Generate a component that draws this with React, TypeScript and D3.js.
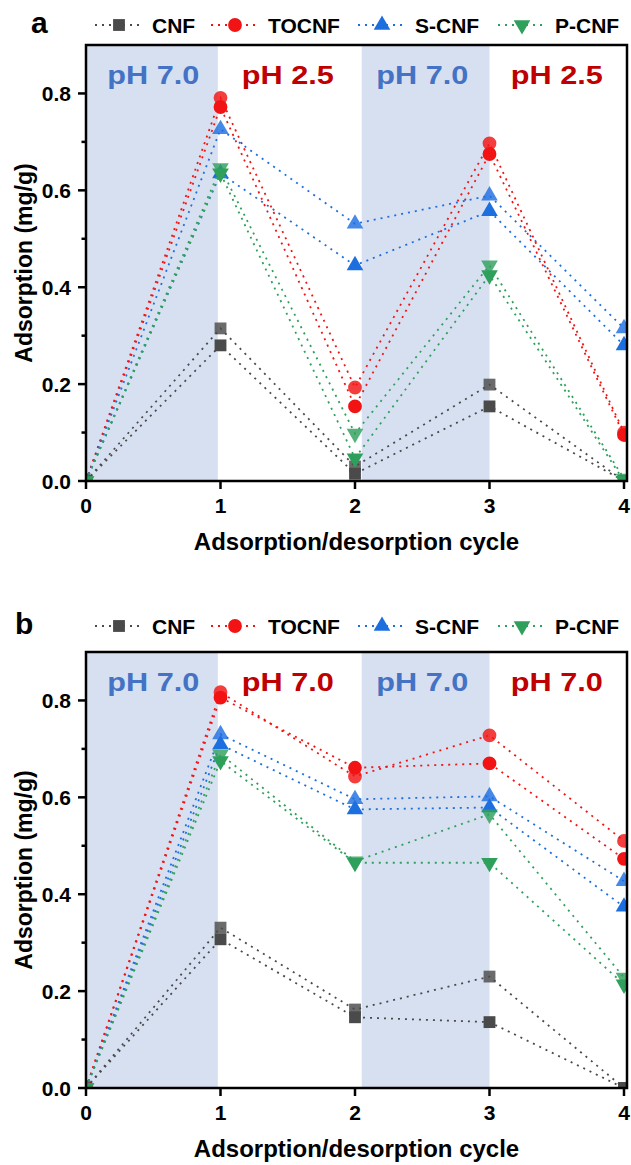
import * as d3 from 'd3'

// cycle positions on the x axis
const cycles = [0, 1, 2, 3, 4]

const seriesNames = ['CNF', 'TOCNF', 'S-CNF', 'P-CNF']
const seriesColors = ['#4a4a4a', '#f21414', '#1d6fe0', '#2fa05c']

const yTicks = [0, 0.2, 0.4, 0.6, 0.8]
const yMinorTicks = [0.1, 0.3, 0.5, 0.7]

// panel a: two replicates per material
const cnfA1 = [0, 0.315, 0.03, 0.199, 0]
const cnfA2 = [0, 0.28, 0.015, 0.154, 0]
const tocnfA1 = [0, 0.791, 0.193, 0.697, 0.1]
const tocnfA2 = [0, 0.772, 0.154, 0.675, 0.095]
const scnfA1 = [0, 0.726, 0.531, 0.589, 0.315]
const scnfA2 = [0, 0.635, 0.445, 0.557, 0.28]
const pcnfA1 = [0, 0.646, 0.098, 0.445, 0.005]
const pcnfA2 = [0, 0.635, 0.047, 0.425, 0]

// panel b
const cnfB1 = [0, 0.331, 0.162, 0.23, 0]
const cnfB2 = [0, 0.307, 0.146, 0.136, 0]
const tocnfB1 = [0, 0.817, 0.643, 0.728, 0.51]
const tocnfB2 = [0, 0.806, 0.661, 0.67, 0.473]
const scnfB1 = [0, 0.73, 0.596, 0.602, 0.427]
const scnfB2 = [0, 0.709, 0.575, 0.579, 0.374]
const pcnfB1 = [0, 0.689, 0.468, 0.565, 0.228]
const pcnfB2 = [0, 0.675, 0.465, 0.465, 0.214]

const phLabelsA = ['pH 7.0', 'pH 2.5', 'pH 7.0', 'pH 2.5']
const phLabelsB = ['pH 7.0', 'pH 7.0', 'pH 7.0', 'pH 7.0']
const phColors = ['#4472c4', '#c00000', '#4472c4', '#c00000']

// shaded (adsorption) intervals
const bands = [
  [0, 0.98],
  [2.05, 3],
]

const FONT = '"Liberation Sans", Arial, sans-serif'

const symbolTypes = [d3.symbolSquare, d3.symbolCircle, d3.symbolTriangle, d3.symbolTriangle]
const symbolSizes = [140, 150, 120, 120]

function Marker({ i, cx, cy, opacity = 1 }: any) {
  const path = d3.symbol().type(symbolTypes[i]).size(symbolSizes[i])()
  const rot = i === 3 ? 180 : 0
  return (
    <path
      d={path as string}
      transform={`translate(${cx},${cy}) rotate(${rot})`}
      fill={seriesColors[i]}
      fillOpacity={opacity}
    />
  )
}

// legend layout: symbol centre and text start
const legendPos = [
  [119, 152],
  [235, 268],
  [382, 415],
  [522, 555],
]

function Panel({ id, label, labelX, legendY, top, phLabels, reps }: any) {
  const left = 86
  const right = 627
  const bottom = top + 436
  const x = d3.scaleLinear().domain([0, 4]).range([left, 624])
  const y = d3.scaleLinear().domain([0, 0.9]).range([bottom, top])
  const line = d3
    .line<number>()
    .x((_, i) => x(cycles[i]))
    .y(d => y(d))
  const fmt = d3.format('.1f')

  return (
    <g fontFamily={FONT} fontWeight="bold">
      <defs>
        <clipPath id={`clip-${id}`}>
          <rect x={left} y={top} width={right - left} height={bottom - top} />
        </clipPath>
      </defs>

      {/* panel letter + legend */}
      <text x={labelX} y={legendY + 8} fontSize={30}>
        {label}
      </text>
      {seriesNames.map((name, i) => (
        <g key={name}>
          <line
            x1={legendPos[i][0] - 24}
            x2={legendPos[i][0] + 24}
            y1={legendY}
            y2={legendY}
            stroke={seriesColors[i]}
            strokeWidth={1.8}
            strokeDasharray="2 5"
          />
          <Marker i={i} cx={legendPos[i][0]} cy={legendY} />
          <text x={legendPos[i][1]} y={legendY + 7.5} fontSize={21}>
            {name}
          </text>
        </g>
      ))}

      {/* shaded bands */}
      {bands.map((b, i) => (
        <rect
          key={i}
          x={x(b[0])}
          y={top}
          width={x(b[1]) - x(b[0])}
          height={bottom - top}
          fill="#d7e0f1"
        />
      ))}

      {/* pH labels */}
      {phLabels.map((t: string, i: number) => (
        <text
          key={i}
          x={x(i + 0.5)}
          y={top + 39}
          textAnchor="middle"
          fontSize={26}
          fill={phColors[i]}
          textLength={92}
          lengthAdjust="spacingAndGlyphs"
        >
          {t}
        </text>
      ))}

      {/* data */}
      <g clipPath={`url(#clip-${id})`}>
        {reps.map((pair: number[][], i: number) => (
          <g key={i}>
            {pair.map((vals, r) => (
              <path
                key={r}
                d={line(vals) as string}
                fill="none"
                stroke={seriesColors[i]}
                strokeWidth={1.8}
                strokeDasharray="2 5"
              />
            ))}
            {pair.map((vals, r) =>
              vals.map((v, k) => (
                <Marker key={`${r}-${k}`} i={i} cx={x(cycles[k])} cy={y(v)} opacity={r === 0 ? 0.82 : 1} />
              ))
            )}
          </g>
        ))}
      </g>

      {/* frame */}
      <rect x={left} y={top} width={right - left} height={bottom - top} fill="none" stroke="#000" strokeWidth={2.5} />

      {/* y axis */}
      {yTicks.map(t => (
        <g key={t}>
          <line x1={left - 8} x2={left} y1={y(t)} y2={y(t)} stroke="#000" strokeWidth={2.5} />
          <text x={71} y={y(t)} dy="0.36em" textAnchor="end" fontSize={21}>
            {fmt(t)}
          </text>
        </g>
      ))}
      {yMinorTicks.map(t => (
        <line key={t} x1={left - 4.5} x2={left} y1={y(t)} y2={y(t)} stroke="#000" strokeWidth={2.5} />
      ))}

      {/* x axis */}
      {cycles.map(c => (
        <g key={c}>
          <line x1={x(c)} x2={x(c)} y1={bottom} y2={bottom + 8} stroke="#000" strokeWidth={2.5} />
          <text x={x(c)} y={bottom + 32} textAnchor="middle" fontSize={21}>
            {c}
          </text>
        </g>
      ))}

      <text x={(left + right) / 2} y={bottom + 69} textAnchor="middle" fontSize={24}>
        Adsorption/desorption cycle
      </text>
      <text
        transform={`translate(32,${(top + bottom) / 2}) rotate(-90)`}
        textAnchor="middle"
        fontSize={23}
      >
        Adsorption (mg/g)
      </text>
    </g>
  )
}

export default function App() {
  const repsA = [
    [cnfA1, cnfA2],
    [tocnfA1, tocnfA2],
    [scnfA1, scnfA2],
    [pcnfA1, pcnfA2],
  ]
  const repsB = [
    [cnfB1, cnfB2],
    [tocnfB1, tocnfB2],
    [scnfB1, scnfB2],
    [pcnfB1, pcnfB2],
  ]
  return (
    <svg
      width={631}
      height={1165}
      style={{ position: 'absolute', left: 0, top: 0, background: '#fff' }}
    >
      <rect width={631} height={1165} fill="#fff" />
      <Panel id="a" label="a" labelX={31} legendY={25} top={45} phLabels={phLabelsA} reps={repsA} />
      <Panel id="b" label="b" labelX={15} legendY={626} top={652} phLabels={phLabelsB} reps={repsB} />
    </svg>
  )
}
